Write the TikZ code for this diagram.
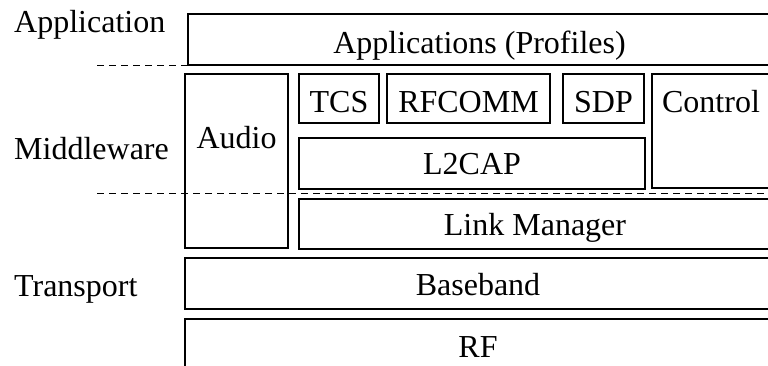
\documentclass[tikz,border=0pt]{standalone}
\usepackage{fontspec}
\setmainfont{Liberation Serif}
\begin{document}
\begin{tikzpicture}[x=1pt,y=-1pt,
  every node/.style={font=\fontsize{32}{40}\selectfont, inner sep=0pt},
  layerbox/.style={draw, line width=2pt, rectangle},
  sep/.style={line width=1.6pt, dash pattern=on 7pt off 5pt},
  lbl/.style={anchor=base west},
  txt/.style={anchor=base}]
\useasboundingbox (0,0) rectangle (768,366);
\clip (0,0) rectangle (768,366);
% left labels
\node[lbl] (lapp) at (14,33) {Application};
\node[lbl] (lmid) at (14,160) {Middleware};
\node[lbl] (ltra) at (14,296) {Transport};
% boxes
\draw[layerbox] (188,14) rectangle (771,65);
\node[txt] (apps) at (479.5,54) {Applications (Profiles)};
\draw[layerbox] (185,74) rectangle (288,248);
\node[txt] (audio) at (236.5,149) {Audio};
\draw[layerbox] (299,74) rectangle (379,123);
\node[txt] (tcs) at (339,113) {TCS};
\draw[layerbox] (387,74) rectangle (550,123);
\node[txt] (rfcomm) at (468.5,113) {RFCOMM};
\draw[layerbox] (563,74) rectangle (644,123);
\node[txt] (sdp) at (603.5,113) {SDP};
\draw[layerbox] (652,74) rectangle (771,188);
\node[txt] (control) at (711,113) {Control};
\draw[layerbox] (299,138) rectangle (645,189);
\node[txt] (l2cap) at (472,175) {L2CAP};
\draw[layerbox] (299,199) rectangle (771,249);
\node[txt] (lm) at (535,235) {Link Manager};
\draw[layerbox] (185,258) rectangle (771,309);
\node[txt] (bb) at (478,295) {Baseband};
\draw[layerbox] (185,319) rectangle (771,381);
\node[txt] (rf) at (478,357) {RF};
% dashed separators
\coordinate (d1a) at (97,65.5);
\coordinate (d1b) at (768,65.5);
\coordinate (d2a) at (97,193.5);
\coordinate (d2b) at (768,193.5);
\draw[sep] (d1a) -- (d1b);
\draw[sep] (d2a) -- (d2b);
\end{tikzpicture}
\end{document}
